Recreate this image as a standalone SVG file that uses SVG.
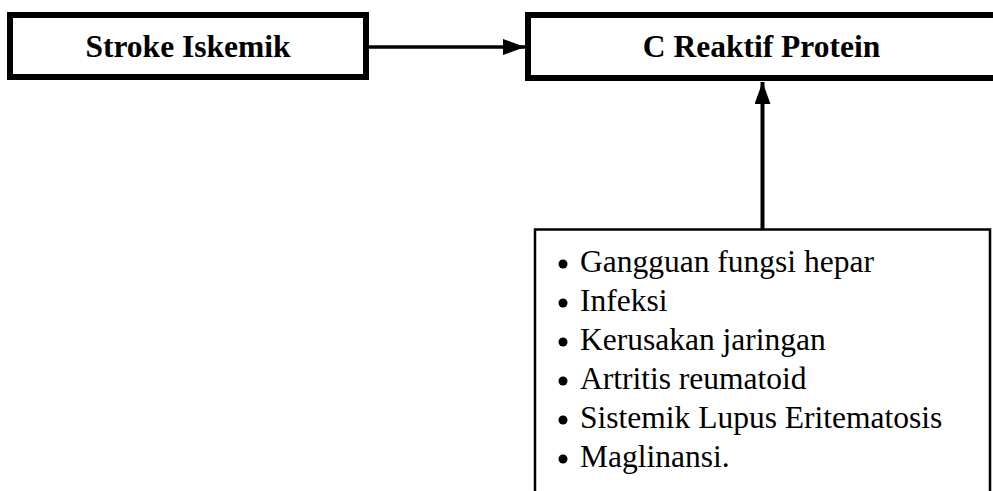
<svg xmlns="http://www.w3.org/2000/svg" width="993" height="491" viewBox="0 0 993 491">
  <style>
    .box { fill: #fff; stroke: #000; stroke-width: 6; }
    .thin { fill: #fff; stroke: #000; stroke-width: 2.5; }
    .title { font-family: "Liberation Serif", "Times New Roman", serif; font-weight: bold; font-size: 31.5px; fill: #000; text-anchor: middle; }
    .item { font-family: "Liberation Serif", "Times New Roman", serif; font-size: 31.5px; fill: #000; }
    .conn { stroke: #000; stroke-width: 4; fill: none; }
  </style>
  <defs>
    <marker id="arr" viewBox="0 0 22 16" refX="22" refY="8" markerWidth="22" markerHeight="16" markerUnits="userSpaceOnUse" orient="auto">
      <path d="M0,0 L22,8 L0,16 Z" fill="#000"/>
    </marker>
  </defs>
  <rect width="993" height="491" fill="#fff"/>
  <g id="node-stroke">
    <rect class="box" x="10" y="15" width="356" height="62"/>
    <text class="title" x="188" y="57">Stroke Iskemik</text>
  </g>
  <g id="node-crp">
    <rect class="box" x="528" y="15" width="480" height="63"/>
    <text class="title" x="761.5" y="57">C Reaktif Protein</text>
  </g>
  <g id="node-causes">
    <rect class="thin" x="535" y="229.5" width="455" height="300"/>
    <g fill="#000">
      <circle cx="563" cy="264" r="4.5"/>
      <circle cx="563" cy="303" r="4.5"/>
      <circle cx="563" cy="342" r="4.5"/>
      <circle cx="563" cy="381" r="4.5"/>
      <circle cx="563" cy="420" r="4.5"/>
      <circle cx="563" cy="459" r="4.5"/>
    </g>
    <text class="item" x="580" y="272">Gangguan fungsi hepar</text>
    <text class="item" x="580" y="311">Infeksi</text>
    <text class="item" x="580" y="350">Kerusakan jaringan</text>
    <text class="item" x="580" y="389">Artritis reumatoid</text>
    <text class="item" x="580" y="428">Sistemik Lupus Eritematosis</text>
    <text class="item" x="580" y="467">Maglinansi.</text>
  </g>
  <g id="connectors">
    <line class="conn" x1="369" y1="47" x2="525" y2="47" marker-end="url(#arr)" style="stroke-width:3.5"/>
    <line class="conn" x1="762.5" y1="229" x2="762.5" y2="82" marker-end="url(#arr)"/>
  </g>
</svg>
